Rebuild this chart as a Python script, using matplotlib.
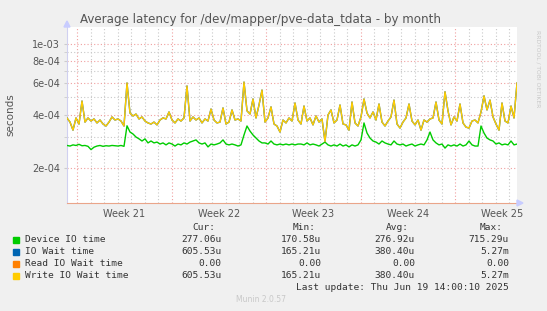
import matplotlib
matplotlib.use('Agg')
import matplotlib.pyplot as plt
from matplotlib.patches import Rectangle, Polygon
from matplotlib.ticker import NullFormatter
import pandas as pd

# munin month graph, 800 hours up to the last update, values in microseconds
start = pd.Timestamp('2025-05-17 06:00')
end = pd.Timestamp('2025-06-19 14:00:10')

write_io_wait_us = [
    383, 363, 327, 383, 354, 477, 363, 383, 368, 378, 359, 373, 354, 345, 363, 388, 373, 378, 368, 345, 603, 408,
    393, 403, 378, 388, 368, 359, 354, 363, 350, 373, 383, 378, 414, 373, 359, 378, 368, 383, 580, 368,
    388, 373, 383, 359, 378, 368, 430, 373, 359, 363, 436, 354, 363, 425, 373, 378, 368, 610, 420, 403,
    490, 383, 453, 550, 363, 383, 442, 354, 345, 319, 373, 359, 383, 368, 465, 373, 354, 447, 368, 383,
    350, 393, 363, 378, 282, 398, 425, 359, 373, 453, 354, 350, 327, 471, 359, 345, 388, 490, 408, 383,
    414, 373, 459, 363, 345, 368, 388, 483, 354, 336, 363, 383, 459, 368, 350, 373, 327, 373, 363, 378,
    383, 471, 373, 354, 538, 420, 350, 388, 368, 459, 359, 340, 336, 368, 373, 359, 414, 510, 425, 483,
    388, 354, 327, 465, 368, 359, 447, 383, 603,
]
io_wait_us = list(write_io_wait_us)  # same as write, no reads on this device
device_io_us = [
    268, 266, 270, 268, 272, 267, 268, 265, 254, 262, 266, 268, 265, 267, 266, 268, 267, 266, 268, 265, 346, 319,
    311, 299, 292, 284, 292, 277, 284, 277, 280, 273, 277, 270, 277, 273, 266, 273, 270, 277, 273, 280,
    284, 288, 277, 273, 277, 263, 273, 270, 273, 277, 288, 273, 270, 273, 270, 266, 270, 307, 345, 323,
    307, 295, 284, 277, 277, 273, 284, 273, 270, 273, 270, 273, 270, 273, 270, 273, 273, 270, 277, 270,
    273, 270, 266, 273, 280, 270, 266, 270, 266, 273, 266, 270, 263, 270, 266, 270, 288, 359, 315, 295,
    284, 280, 273, 284, 277, 273, 270, 284, 273, 270, 273, 266, 270, 273, 266, 270, 273, 270, 288, 319,
    288, 277, 270, 273, 259, 270, 266, 270, 266, 273, 266, 270, 284, 270, 266, 266, 345, 315, 295, 288,
    284, 273, 277, 270, 273, 270, 284, 270, 273,
]

series = ['Device IO time', 'IO Wait time', 'Read IO Wait time', 'Write IO Wait time']
colors = ['#00cc00', '#0066b3', '#ff8000', '#ffcc00']
cur = ['277.06u', '605.53u', '0.00', '605.53u']
mins = ['170.58u', '165.21u', '0.00', '165.21u']
avgs = ['276.92u', '380.40u', '0.00', '380.40u']
maxs = ['715.29u', '5.27m', '0.00', '5.27m']

y_major = [2e-4, 4e-4, 6e-4, 8e-4, 1e-3]
y_major_labels = ['2e-04', '4e-04', '6e-04', '8e-04', '1e-03']
y_minor = [3e-4, 5e-4, 7e-4, 9e-4]

W, H = 547, 311
fig = plt.figure(figsize=(W / 100, H / 100), dpi=100, facecolor='#f0f0f0')


def fx(x):
    return x / W


def fy(y):
    return 1 - y / H


ax = fig.add_axes([fx(67), fy(203), fx(517) - fx(67), fy(27) - fy(203)])
ax.set_facecolor('white')

times = pd.date_range(start, end, periods=len(write_io_wait_us))
dev = [v * 1e-6 for v in device_io_us]
iow = [v * 1e-6 for v in io_wait_us]
wr = [v * 1e-6 for v in write_io_wait_us]

ax.set_yscale('log')
ax.set_ylim(1.27e-4, 1.247e-3)
ax.set_xlim(start, end)

# grid, drawn first
sundays = pd.date_range('2025-05-18', periods=5, freq='7D')
days = pd.date_range('2025-05-18', '2025-06-19', freq='D')
for d in days:
    if d not in sundays:
        ax.axvline(d, color='#c8c8c8', lw=0.8, ls=(0, (1, 2)), zorder=1)
for d in sundays:
    ax.axvline(d, color='#f0a0a0', lw=0.8, ls=(0, (1, 2)), zorder=1)
for v in y_minor:
    ax.axhline(v, color='#c8c8c8', lw=0.8, ls=(0, (1, 2)), zorder=1)
for v in y_major:
    ax.axhline(v, color='#f0a0a0', lw=0.8, ls=(0, (1, 2)), zorder=1)

ax.plot(times, dev, color=colors[0], lw=1.0, zorder=3)
ax.plot(times, iow, color=colors[1], lw=1.0, zorder=3)
ax.plot(times, wr, color=colors[3], lw=1.0, zorder=4)

ax.set_yticks(y_major)
ax.set_yticklabels(y_major_labels)
ax.set_yticks(y_minor, minor=True)
ax.yaxis.set_minor_formatter(NullFormatter())
ax.tick_params(axis='y', which='both', length=2, color='#cccccc', labelsize=7, labelcolor='#555555', pad=3)

mids = [d + pd.Timedelta(hours=84) for d in sundays]
ax.set_xticks(mids)
ax.set_xticklabels(['Week %d' % d.isocalendar()[1] for d in mids])
ax.tick_params(axis='x', which='both', length=0, labelsize=7, labelcolor='#555555', pad=4)

for s in ['top', 'right']:
    ax.spines[s].set_visible(False)
ax.spines['left'].set_color('#d0d0f0')
ax.spines['bottom'].set_color('#eaa58a')

# axis arrows
fig.add_artist(Polygon([[fx(67), fy(21)], [fx(64), fy(27)], [fx(70), fy(27)]],
                       closed=True, transform=fig.transFigure, color='#c8ccff'))
fig.add_artist(Polygon([[fx(523), fy(203)], [fx(517), fy(200)], [fx(517), fy(206)]],
                       closed=True, transform=fig.transFigure, color='#c8ccff'))

fig.text(fx(261), fy(19), 'Average latency for /dev/mapper/pve-data_tdata - by month',
         ha='center', va='center', fontsize=8.6, color='#555555')
fig.text(fx(10), fy(115), 'seconds', rotation=90, ha='center', va='center',
         fontsize=7.5, color='#555555')
fig.text(fx(538), fy(30), 'RRDTOOL / TOBI OETIKER', rotation=270, ha='center', va='top',
         fontsize=4.3, color='#c8c8c8')

mono = 'DejaVu Sans Mono'
fs = 6.8
tc = '#333333'
col_x = [221.5, 321.5, 415, 509]
heads = ['Cur:', 'Min:', 'Avg:', 'Max:']
for x, h in zip(col_x, heads):
    fig.text(fx(x - 6), fy(228), h, ha='right', va='center', family=mono, fontsize=fs, color=tc)

row_y = [240, 252, 264, 276]
for i, name in enumerate(series):
    y = row_y[i]
    fig.add_artist(Rectangle((fx(13), fy(y + 3)), fx(6), fy(0) - fy(6),
                             transform=fig.transFigure, color=colors[i]))
    fig.text(fx(25), fy(y), name, ha='left', va='center', family=mono, fontsize=fs, color=tc)
    for x, v in zip(col_x, [cur[i], mins[i], avgs[i], maxs[i]]):
        fig.text(fx(x), fy(y), v, ha='right', va='center', family=mono, fontsize=fs, color=tc)

fig.text(fx(509), fy(288), 'Last update: Thu Jun 19 14:00:10 2025', ha='right', va='center',
         family=mono, fontsize=fs, color=tc)
fig.text(fx(261), fy(300), 'Munin 2.0.57', ha='center', va='center', fontsize=5.5, color='#c8c8c8')

fig.savefig('out.png', dpi=100, facecolor=fig.get_facecolor())
